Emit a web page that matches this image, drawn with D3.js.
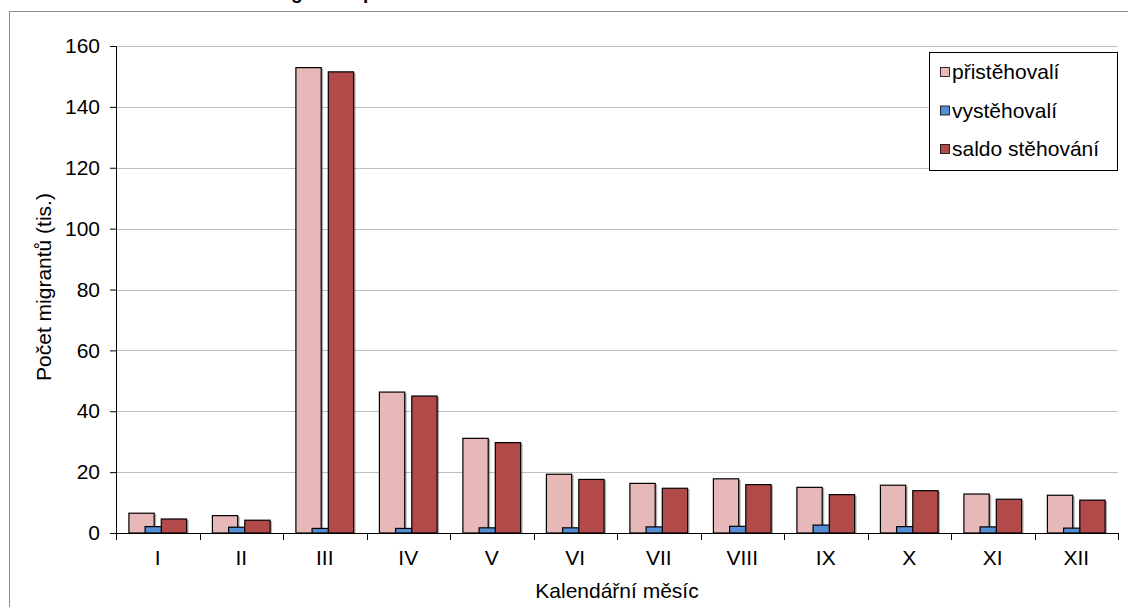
<!DOCTYPE html>
<html>
<head>
<meta charset="utf-8">
<script src="https://cdn.jsdelivr.net/npm/d3@7"></script>
<style>
	body { margin: 0; background: #fff; }
	svg { display: block; font-family: "Liberation Sans", Arial, sans-serif; }
</style>
</head>
<body>
<svg id="chart" width="1128" height="607"></svg>
<script>

// data
const months = ["I", "II", "III", "IV", "V", "VI", "VII", "VIII", "IX", "X", "XI", "XII"];
const prist = [6.5, 5.7, 152.9, 46.3, 31.1, 19.3, 16.3, 17.8, 15.0, 15.7, 12.8, 12.4];
const vyst = [2.1, 1.9, 1.5, 1.5, 1.7, 1.7, 2.0, 2.2, 2.6, 2.1, 2.0, 1.6];
const saldo = [4.6, 4.2, 151.5, 45.0, 29.7, 17.6, 14.7, 15.9, 12.6, 13.9, 11.1, 10.8];
const series_names = ["přistěhovalí", "vystěhovalí", "saldo stěhování"];
const series_colors = ["#E6B9B8", "#558ED5", "#B24A4A"];
const y_ticks = [0, 20, 40, 60, 80, 100, 120, 140, 160];

function whenDocumentLoaded(action) {
	if (document.readyState === "loading") {
		document.addEventListener("DOMContentLoaded", action);
	} else {
		action();
	}
}

whenDocumentLoaded(() => {
	const svg = d3.select("#chart");
	const plot = {left: 116, right: 1118, top: 46, bottom: 533};
	const font_size = "21px";

	// outer chart frame (cut by the picture edge)
	svg.append("rect")
		.attr("x", 9.5).attr("y", 11.5)
		.attr("width", 1300).attr("height", 700)
		.attr("fill", "none")
		.attr("stroke", "#8c8c8c")
		.attr("stroke-width", 1);

	// title, almost entirely above the picture
	svg.append("text")
		.attr("x", 270).attr("y", -1)
		.attr("font-size", "19px")
		.attr("font-weight", "bold")
		.text("Migrace – podle kalendářního měsíce");

	const x = d3.scaleBand()
		.domain(months)
		.range([plot.left, plot.right]);

	const y = d3.scaleLinear()
		.domain([0, 160])
		.range([plot.bottom, plot.top]);

	// gridlines
	svg.append("g").selectAll("line")
		.data(y_ticks.filter(d => d > 0))
		.enter().append("line")
			.attr("x1", plot.left).attr("x2", plot.right)
			.attr("y1", d => Math.round(y(d)) + 0.5)
			.attr("y2", d => Math.round(y(d)) + 0.5)
			.attr("stroke", "#bfbfbf")
			.attr("stroke-width", 1.2);

	// bars: Excel style, overlapping series
	const bar_w = x.bandwidth() * 0.303;
	const step = x.bandwidth() * 0.194;
	const group_w = bar_w + 2 * step;
	const all_series = [prist, vyst, saldo];

	all_series.forEach((values, si) => {
		const g = svg.append("g");
		const xpos = (d, i) => x(months[i]) + (x.bandwidth() - group_w) / 2 + si * step;
		g.selectAll(".shadow")
			.data(values)
			.enter().append("rect")
				.attr("class", "shadow")
				.attr("x", (d, i) => xpos(d, i) + 2)
				.attr("y", d => y(d) + 1)
				.attr("width", bar_w)
				.attr("height", d => y(0) - y(d) - 1)
				.attr("fill", "#000")
				.attr("opacity", 0.3);
		g.selectAll(".bar")
			.data(values)
			.enter().append("rect")
				.attr("class", "bar")
				.attr("x", xpos)
				.attr("y", d => y(d))
				.attr("width", bar_w)
				.attr("height", d => y(0) - y(d))
				.attr("fill", series_colors[si])
				.attr("stroke", "#000")
				.attr("stroke-width", 1.2);
	});

	// y axis
	const y_axis = d3.axisLeft(y)
		.tickValues(y_ticks)
		.tickSize(6)
		.tickPadding(10);
	const yg = svg.append("g")
		.attr("transform", "translate(" + plot.left + ",0)")
		.call(y_axis);
	yg.select(".domain").attr("stroke", "#000");
	yg.selectAll("text")
		.attr("font-size", font_size)
		.attr("font-family", "Liberation Sans, Arial, sans-serif")
		.attr("fill", "#000");

	// x axis with ticks on category boundaries
	const xg = svg.append("g")
		.attr("transform", "translate(0," + plot.bottom + ")");
	xg.append("line")
		.attr("x1", plot.left).attr("x2", plot.right)
		.attr("y1", 0.5).attr("y2", 0.5)
		.attr("stroke", "#000");
	xg.selectAll(".xtick")
		.data(months.concat(["end"]))
		.enter().append("line")
			.attr("class", "xtick")
			.attr("x1", (d, i) => Math.round(plot.left + i * x.step()) + 0.5)
			.attr("x2", (d, i) => Math.round(plot.left + i * x.step()) + 0.5)
			.attr("y1", 0).attr("y2", 7)
			.attr("stroke", "#000");
	xg.selectAll(".xlabel")
		.data(months)
		.enter().append("text")
			.attr("class", "xlabel")
			.attr("x", d => x(d) + x.bandwidth() / 2)
			.attr("y", 32)
			.attr("text-anchor", "middle")
			.attr("font-size", font_size)
			.text(d => d);

	// axis titles
	svg.append("text")
		.attr("x", (plot.left + plot.right) / 2)
		.attr("y", 598)
		.attr("text-anchor", "middle")
		.attr("font-size", font_size)
		.text("Kalendářní měsíc");

	svg.append("text")
		.attr("transform", "translate(51,287) rotate(-90)")
		.attr("text-anchor", "middle")
		.attr("font-size", font_size)
		.text("Počet migrantů (tis.)");

	// legend
	const legend = svg.append("g").attr("transform", "translate(929,52)");
	legend.append("rect")
		.attr("x", 0.5).attr("y", 0.5)
		.attr("width", 188).attr("height", 118)
		.attr("fill", "#fff")
		.attr("stroke", "#000");
	const items = legend.selectAll(".item")
		.data(series_names)
		.enter().append("g")
			.attr("transform", (d, i) => "translate(11," + (20 + i * 38.5) + ")");
	items.append("rect")
		.attr("x", 0.5).attr("y", -4.5)
		.attr("width", 9).attr("height", 9)
		.attr("fill", (d, i) => series_colors[i])
		.attr("stroke", "#000")
		.attr("stroke-width", 0.8);
	items.append("text")
		.attr("x", 12).attr("y", 7)
		.attr("font-size", font_size)
		.text(d => d);
});
</script>
</body>
</html>
